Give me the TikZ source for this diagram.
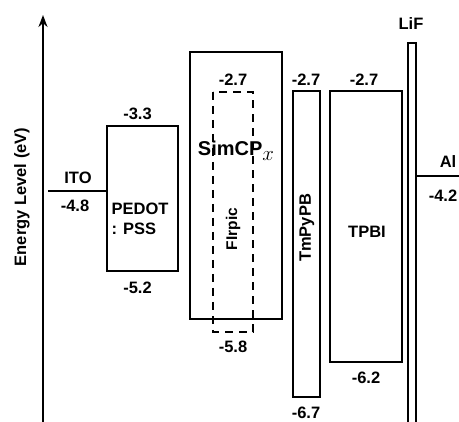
\documentclass[tikz,border=0pt]{standalone}
\usepackage{fontspec}
\setmainfont{Liberation Sans}
\usepackage{tikz}
\usetikzlibrary{arrows.meta}

\begin{document}
\begin{tikzpicture}[
  x=1pt,y=-1pt,
  line cap=butt,
  line join=miter,
  >=Stealth,
  layer/.style={black,line width=2pt},
  dopant/.style={black,line width=2pt,dash pattern=on 8pt off 6pt},
  lbl/.style={inner sep=0pt,font=\fontsize{16.5}{20}\selectfont\bfseries},
  bigl/.style={inner sep=0pt,font=\fontsize{20}{22}\selectfont\bfseries}
]
\path[use as bounding box] (0,0) rectangle (459,422);

% energy axis
\draw[layer,->] (43,422) -- (43,15);
\node[lbl,rotate=90] (ylab) at (22,197) {Energy Level (eV)};

% electrodes
\draw[layer] (48,191) -- (107,191);
\node[lbl] (ito) at (78,177.5) {ITO};
\node[lbl] (itoE) at (75,206) {-4.8};

\draw[layer] (416,176) -- (459,176);
\node[lbl] (al) at (448,162) {Al};
\node[lbl] (alE) at (443,196) {-4.2};

% PEDOT:PSS
\draw[layer] (107,126) rectangle (178,271);
\node[lbl,align=left] (pedot) at (140,219) {PEDOT\\: PSS};
\node[lbl] (pedotH) at (137.5,114) {-3.3};
\node[lbl] (pedotL) at (137.5,288) {-5.2};

% host SimCPx with FIrpic dopant
\draw[layer] (190,52) rectangle (282,319);
\draw[dopant] (213,92) rectangle (253,332);
\node[bigl] (host) at (236,151) {SimCP\raisebox{-5pt}{$x$}};
\node[lbl,font=\fontsize{15.5}{18}\selectfont\bfseries,rotate=90] (dop) at (233,229) {FIrpic};
\node[lbl] (hostH) at (233,80) {-2.7};
\node[lbl] (dopL) at (233,347) {-5.8};

% TmPyPB
\draw[layer] (293,91) rectangle (320,397);
\node[lbl,rotate=90] (tmpy) at (307,228) {TmPyPB};
\node[lbl] (tmpyH) at (306,80) {-2.7};
\node[lbl] (tmpyL) at (306,412.5) {-6.7};

% TPBI
\draw[layer] (330,91) rectangle (402,362);
\node[lbl] (tpbi) at (367,232) {TPBI};
\node[lbl] (tpbiH) at (364,80) {-2.7};
\node[lbl] (tpbiL) at (366,378) {-6.2};

% LiF
\draw[layer] (408,422) -- (408,43) -- (416,43) -- (416,422);
\node[lbl] (lif) at (411,24) {LiF};
\end{tikzpicture}
\end{document}
